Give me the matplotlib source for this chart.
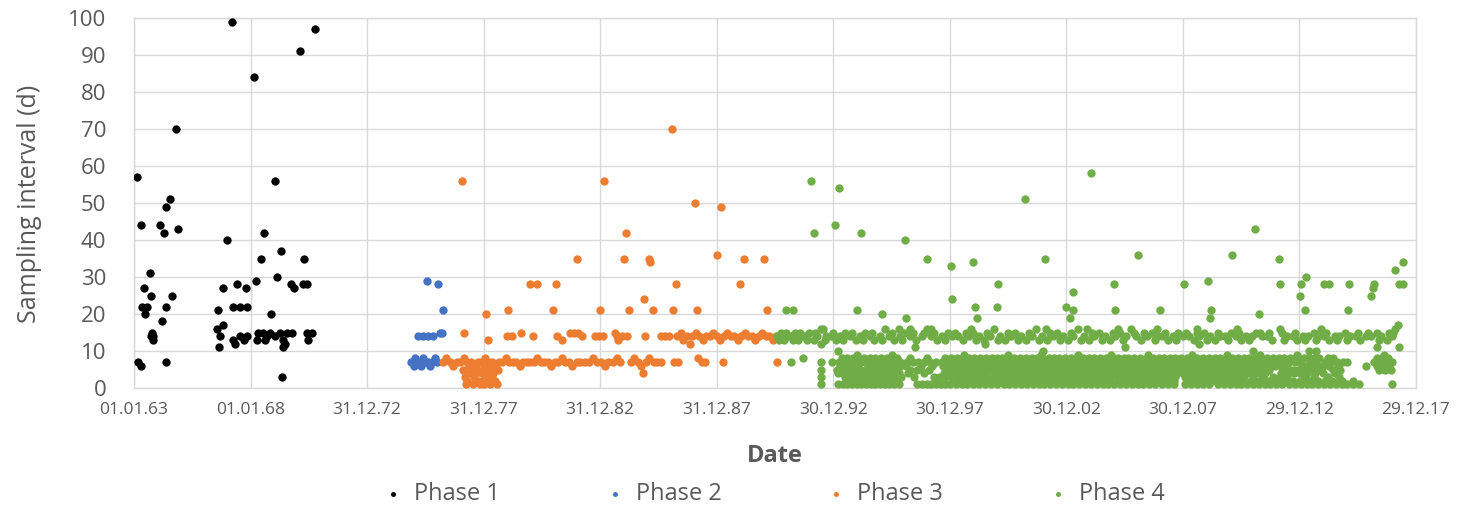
import datetime as dt
import matplotlib
matplotlib.use("Agg")
import matplotlib.pyplot as plt
import matplotlib.dates as mdates

# ---------------------------------------------------------------------------
# Sampling interval (days) versus sampling date, given as decimal years
# ---------------------------------------------------------------------------
phase1 = [
    (1963.13, 57), (1963.30, 44), (1964.37, 49), (1964.55, 51), (1964.80, 70),
    (1964.89, 43), (1964.12, 44), (1964.29, 42), (1963.69, 31), (1963.43, 27),
    (1963.73, 25), (1964.63, 25), (1963.34, 22), (1963.56, 22), (1963.47, 20),
    (1964.37, 22), (1964.20, 18), (1963.77, 15), (1963.82, 14), (1963.80, 13),
    (1963.75, 14), (1963.17, 7), (1963.30, 6), (1964.37, 7),
    (1967.21, 99), (1968.15, 84), (1970.12, 91), (1970.77, 97), (1969.05, 56),
    (1966.99, 40), (1968.58, 42), (1968.45, 35), (1969.31, 37), (1970.30, 35),
    (1968.24, 29), (1969.14, 30), (1966.82, 27), (1967.42, 28), (1967.81, 27),
    (1969.74, 28), (1969.87, 27), (1970.25, 28), (1970.42, 28), (1966.61, 21),
    (1967.25, 22), (1967.55, 22), (1967.85, 22), (1968.88, 20), (1966.56, 16),
    (1966.82, 17), (1966.69, 14), (1966.65, 11), (1967.25, 13), (1967.55, 14),
    (1967.85, 14), (1967.33, 12), (1967.70, 13), (1968.32, 15), (1968.54, 15),
    (1968.71, 14), (1968.84, 15), (1969.05, 14), (1968.28, 13), (1968.62, 13),
    (1969.27, 15), (1969.39, 13), (1969.57, 15), (1969.39, 11), (1969.78, 15),
    (1969.48, 12), (1970.42, 15), (1970.64, 15), (1970.47, 13), (1969.35, 3),
]

phase2 = [
    (1975.57, 29), (1976.05, 28), (1976.26, 21), (1975.19, 14), (1975.40, 14),
    (1975.62, 14), (1975.83, 14), (1976.13, 15), (1976.22, 15),
    (1974.90, 7), (1975.00, 6), (1975.05, 8), (1975.15, 7), (1975.25, 7),
    (1975.30, 6), (1975.40, 8), (1975.50, 7), (1975.60, 7), (1975.70, 6),
    (1975.80, 7), (1975.90, 8), (1976.00, 7),
]

phase3 = [
    # isolated long intervals
    (1977.08, 56), (1983.17, 56), (1986.09, 70), (1987.08, 50), (1988.19, 49),
    (1984.12, 42), (1982.01, 35), (1984.03, 35), (1985.10, 35), (1985.15, 34),
    (1988.02, 36), (1989.18, 35), (1990.04, 35), (1979.99, 28), (1980.30, 28),
    (1981.11, 28), (1986.26, 28), (1989.01, 28), (1984.89, 24), (1978.11, 20),
    (1979.05, 21), (1980.98, 21), (1983.00, 21), (1984.24, 21), (1985.27, 21),
    (1986.13, 21), (1987.16, 21), (1990.17, 21), (1977.16, 15), (1984.85, 4),
    # fortnightly
    (1978.19, 13), (1979.01, 14), (1979.22, 14), (1979.61, 15), (1980.12, 14),
    (1981.15, 14), (1981.37, 13), (1981.71, 15), (1981.88, 15), (1982.06, 15),
    (1982.23, 14), (1982.79, 14), (1982.96, 14), (1983.13, 14), (1983.64, 15),
    (1983.73, 14), (1983.77, 13), (1983.94, 14), (1984.16, 14), (1984.93, 14),
    (1985.62, 14), (1985.79, 14), (1985.96, 14),
    (1986.30, 14), (1986.45, 15), (1986.55, 13), (1986.70, 14), (1986.85, 12),
    (1986.95, 14), (1987.10, 15), (1987.25, 14), (1987.40, 13), (1987.55, 14),
    (1987.70, 14), (1987.85, 15), (1988.00, 14), (1988.15, 13), (1988.30, 14),
    (1988.45, 15), (1988.60, 14), (1988.75, 14), (1988.90, 13), (1989.05, 14),
    (1989.20, 15), (1989.35, 14), (1989.50, 14), (1989.65, 13), (1989.80, 14),
    (1989.95, 15), (1990.10, 14), (1990.25, 14), (1990.40, 13), (1990.55, 14),
    # weekly
    (1976.25, 7), (1976.40, 8), (1976.55, 7), (1976.70, 6), (1976.85, 7),
    (1977.00, 7), (1977.15, 8), (1977.30, 7), (1977.45, 7), (1977.60, 6),
    (1977.75, 7), (1977.90, 7), (1978.05, 8), (1978.20, 7), (1978.35, 7),
    (1978.50, 6), (1978.65, 7), (1978.80, 7), (1978.95, 8), (1979.10, 7),
    (1979.25, 7), (1979.40, 7), (1979.55, 6), (1979.70, 7), (1979.85, 7),
    (1980.00, 7), (1980.15, 7), (1980.30, 8), (1980.45, 7), (1980.60, 7),
    (1980.75, 7), (1980.90, 6), (1981.05, 7), (1981.20, 7), (1981.35, 8),
    (1981.50, 7), (1981.65, 7), (1981.80, 6), (1982.00, 7), (1982.15, 7),
    (1982.35, 7), (1982.50, 7), (1982.70, 8), (1982.85, 7), (1983.05, 7),
    (1983.20, 6), (1983.35, 7), (1983.55, 7), (1983.70, 8), (1983.85, 7),
    (1984.30, 7), (1984.45, 8), (1984.60, 7), (1984.75, 6), (1984.95, 7),
    (1985.10, 8), (1985.30, 7), (1985.45, 7), (1985.60, 7), (1986.15, 7),
    (1986.35, 7), (1987.20, 8), (1987.35, 7), (1987.50, 7), (1988.25, 7),
    (1990.60, 7),
    # short intervals 1977-1978
    (1977.10, 5), (1977.20, 3), (1977.25, 1), (1977.30, 2), (1977.40, 4),
    (1977.45, 6), (1977.55, 1), (1977.60, 3), (1977.70, 5), (1977.75, 2),
    (1977.85, 1), (1977.90, 4), (1978.00, 6), (1978.05, 3), (1978.10, 2),
    (1978.15, 5), (1978.25, 1), (1978.30, 4), (1978.35, 3), (1978.45, 6),
    (1978.50, 2), (1978.55, 1), (1978.60, 5), (1978.40, 4), (1977.50, 4),
    (1978.20, 6), (1977.35, 6), (1977.95, 2), (1977.65, 6), (1978.00, 1),
]

phase4_sparse = [
    (1990.95, 21), (1991.28, 21), (1991.20, 7), (1991.71, 8), (1992.06, 56),
    (1992.18, 42), (1993.09, 44), (1993.26, 54), (1994.20, 42), (1996.09, 40),
    (1997.03, 35), (1998.06, 33), (1999.01, 34), (2000.08, 28), (2001.20, 51),
    (2002.06, 35), (2004.07, 58), (2005.02, 28), (2003.30, 26), (1998.11, 24),
    (1999.09, 22), (1999.18, 19), (2000.00, 22), (1994.03, 21), (1995.10, 20),
    (1996.13, 19), (2003.00, 22), (2003.26, 21), (2003.13, 19), (2005.10, 21),
    (2006.05, 36), (2007.03, 21), (2008.06, 28), (2009.05, 29), (2009.18, 21),
    (2009.14, 19), (2010.08, 36), (2011.07, 43), (2011.24, 20), (2012.10, 35),
    (2012.14, 28), (2013.00, 25), (2013.04, 28), (2013.26, 30), (2013.21, 21),
    (2014.03, 28), (2014.24, 28), (2015.06, 21), (2015.10, 28), (2016.18, 28),
    (2016.13, 27), (2016.05, 25), (2017.25, 28), (2017.42, 28), (2017.42, 34),
    (2017.08, 32), (2017.21, 17), (2017.08, 16), (2017.25, 11), (2016.95, 1),
    (1992.45, 16), (1995.80, 16), (1996.30, 16), (1997.20, 16), (1998.90, 16),
    (2002.10, 16), (2003.90, 16), (2005.20, 16), (2006.90, 16), (2008.60, 16),
    (2010.30, 16), (2012.18, 16), (2013.90, 16),
    (1992.45, 12), (1993.20, 10), (1996.50, 11), (1999.50, 12), (2002.00, 10),
    (2005.50, 11), (2008.70, 12), (2011.00, 10), (2013.40, 10), (2013.70, 10),
    (2016.30, 11),
]

phase4_fortnightly = [
    (1990.60, 14), (1990.75, 15), (1990.90, 13), (1991.05, 14), (1991.20, 14),
    (1991.35, 15), (1991.50, 13), (1991.65, 14), (1991.80, 14), (1991.95, 15),
    (1992.15, 13), (1992.30, 14), (1992.55, 16), (1992.70, 14), (1992.90, 14),
    (1993.10, 13), (1993.30, 14), (1993.50, 15), (1993.70, 14), (1993.95, 13),
    (1994.15, 14), (1994.35, 15), (1994.55, 14), (1994.75, 13), (1995.00, 14),
    (1995.20, 16), (1995.40, 14), (1995.60, 13), (1995.85, 14), (1996.05, 15),
    (1996.30, 14), (1996.55, 13), (1996.80, 14), (1997.00, 16), (1997.20, 14),
    (1997.45, 13), (1997.65, 14), (1997.90, 15), (1998.10, 14), (1998.35, 14),
    (1998.55, 13), (1998.80, 14), (1999.00, 15), (1999.25, 14), (1999.45, 13),
    (1999.70, 14), (1999.90, 16), (2000.15, 14), (2000.35, 13), (2000.60, 14),
    (2000.80, 15), (2001.05, 14), (2001.25, 13), (2001.50, 14), (2001.70, 16),
    (2001.95, 14), (2002.15, 13), (2002.40, 14), (2002.60, 15), (2002.85, 14),
    (2003.05, 13), (2003.30, 14), (2003.50, 16), (2003.75, 14), (2003.95, 13),
    (2004.20, 14), (2004.40, 15), (2004.65, 14), (2004.85, 13), (2005.10, 14),
    (2005.30, 15), (2005.55, 14), (2005.75, 16), (2006.00, 14), (2006.20, 13),
    (2006.45, 14), (2006.65, 15), (2006.90, 14), (2007.10, 14), (2007.35, 13),
    (2007.55, 14), (2007.80, 15), (2008.00, 14), (2008.25, 14), (2008.45, 13),
    (2008.70, 14), (2008.90, 15), (2009.15, 14), (2009.35, 13), (2009.60, 14),
    (2009.80, 14), (2010.05, 15), (2010.25, 14), (2010.50, 13), (2010.70, 14),
    (2010.95, 14), (2011.15, 15), (2011.40, 14), (2011.60, 14), (2011.80, 13),
    (2012.25, 15), (2012.45, 14), (2012.70, 14), (2012.90, 13), (2013.15, 14),
    (2013.35, 14), (2013.60, 15), (2013.80, 14), (2014.05, 14), (2014.25, 13),
    (2014.50, 14), (2014.70, 14), (2014.95, 15), (2015.15, 14), (2015.40, 14),
    (2015.60, 13), (2015.85, 14), (2016.05, 14), (2016.30, 15), (2016.50, 14),
    (2016.75, 13), (2016.95, 14),
    (1990.68, 13), (1990.98, 15), (1991.28, 13), (1991.58, 15), (1991.88, 13),
    (1992.22, 15), (1992.62, 13), (1993.00, 15), (1993.40, 13), (1993.82, 15),
    (1994.25, 13), (1994.65, 15), (1995.10, 13), (1995.50, 15), (1995.95, 13),
    (1996.42, 15), (1996.90, 15), (1997.32, 15), (1997.78, 13), (1998.22, 15),
    (1998.68, 15), (1999.12, 13), (1999.58, 15), (2000.05, 13), (2000.48, 15),
    (2000.92, 13), (2001.38, 15), (2001.82, 13), (2002.28, 15), (2002.72, 13),
    (2003.18, 15), (2003.62, 13), (2004.08, 15), (2004.52, 13), (2004.98, 15),
    (2005.42, 13), (2005.88, 15), (2006.32, 15), (2006.78, 13), (2007.22, 15),
    (2007.68, 13), (2008.12, 15), (2008.58, 15), (2009.02, 13), (2009.48, 15),
    (2009.92, 13), (2010.38, 15), (2010.82, 13), (2011.28, 15), (2011.70, 15),
    (2012.35, 13), (2012.80, 15), (2013.25, 13), (2013.70, 13), (2014.15, 15),
    (2014.60, 13), (2015.05, 13), (2015.50, 15), (2015.95, 15), (2016.40, 13),
    (2016.85, 15), (2017.00, 15),
]

# years of the short (1-9 day) intervals in phase 4, one list per interval
phase4_short = {
    9: [1994.00, 1995.50, 1998.60, 2000.50, 2001.90, 2003.50, 2004.90, 2006.50,
        2008.40, 2009.90, 2011.30, 2012.90, 2016.60],
    8: [1993.35, 1993.85, 1994.30, 1994.80, 1995.30, 1995.75, 1997.80, 1998.30,
        1998.80, 1999.30, 1999.80, 2000.25, 2000.75, 2001.25, 2001.75, 2002.25,
        2002.70, 2003.20, 2003.70, 2004.20, 2004.70, 2005.20, 2005.65, 2006.15,
        2006.70, 2007.20, 2007.65, 2008.15, 2008.60, 2009.10, 2009.60, 2010.10,
        2010.60, 2011.10, 2011.60, 2012.10, 2012.60, 2013.20, 2013.60, 2014.20,
        2016.30, 2016.80,
        1993.60, 1994.05, 1994.55, 1995.05, 1995.55, 1998.05, 1998.55, 1999.05,
        1999.55, 2000.00, 2000.50, 2001.00, 2001.50, 2002.00, 2002.45, 2002.95,
        2003.45, 2003.95, 2004.45, 2004.95, 2005.45, 2005.90, 2006.45, 2006.95,
        2007.45, 2007.90, 2008.40, 2008.85, 2009.35, 2009.85, 2010.35, 2010.85,
        2011.35, 2011.85, 2012.35, 2012.85, 2013.40, 2013.85, 2014.45, 2016.55,
        1996.30, 1997.00],
    7: [1992.45, 1992.95, 1993.25, 1993.45, 1993.70, 1993.95, 1994.20, 1994.40,
        1994.65, 1994.90, 1995.15, 1995.40, 1995.65, 1995.85, 1996.40, 1996.90,
        1997.40, 1997.65, 1997.90, 1998.15, 1998.40, 1998.65, 1998.90, 1999.15,
        1999.40, 1999.60, 1999.85, 2000.10, 2000.35, 2000.60, 2000.85, 2001.10,
        2001.35, 2001.60, 2001.85, 2002.10, 2002.35, 2002.55, 2002.80, 2003.05,
        2003.30, 2003.55, 2003.80, 2004.05, 2004.30, 2004.55, 2004.80, 2005.05,
        2005.30, 2005.55, 2005.80, 2006.05, 2006.30, 2006.55, 2006.80, 2007.05,
        2007.30, 2007.55, 2007.80, 2008.05, 2008.30, 2008.55, 2008.80, 2009.05,
        2009.30, 2009.55, 2009.80, 2010.05, 2010.30, 2010.55, 2010.80, 2011.05,
        2011.30, 2011.55, 2011.80, 2012.05, 2012.30, 2012.55, 2012.80, 2013.05,
        2013.45, 2013.70, 2014.10, 2014.35, 2014.60, 2014.85, 2015.05, 2016.20,
        2016.45, 2016.70, 2016.95, 1996.15, 1996.65, 1997.15],
    6: [1993.30, 1993.80, 1994.50, 1995.10, 1995.60, 1996.10, 1997.70, 1998.20,
        1998.70, 1999.20, 1999.75, 2000.20, 2000.70, 2001.20, 2001.70, 2002.20,
        2002.60, 2003.10, 2003.60, 2004.10, 2004.60, 2005.10, 2005.60, 2006.10,
        2006.60, 2007.10, 2007.60, 2008.10, 2008.70, 2009.20, 2009.70, 2010.20,
        2010.70, 2011.20, 2011.70, 2012.20, 2013.10, 2013.55, 2014.00, 2015.83,
        2016.30, 2016.85,
        1993.55, 1994.05, 1994.75, 1995.35, 1995.85, 1997.95, 1998.45, 1998.95,
        1999.45, 2000.00, 2000.45, 2000.95, 2001.45, 2001.95, 2002.40, 2002.85,
        2003.35, 2003.85, 2004.35, 2004.85, 2005.35, 2005.85, 2006.35, 2006.85,
        2007.35, 2007.85, 2008.35, 2008.95, 2009.45, 2009.95, 2010.45, 2010.95,
        2011.45, 2011.95, 2012.45, 2013.30, 2013.80, 2014.25, 2014.65, 2016.55,
        1996.75, 1997.25],
    5: [1992.45, 1993.40, 1993.90, 1994.35, 1994.85, 1995.35, 1996.30, 1997.85,
        1998.45, 1998.95, 1999.50, 2000.00, 2000.45, 2000.95, 2001.50, 2001.95,
        2002.45, 2002.95, 2003.40, 2003.95, 2004.40, 2004.95, 2005.45, 2005.95,
        2006.40, 2006.95, 2007.45, 2007.95, 2008.45, 2008.95, 2009.45, 2009.95,
        2010.45, 2010.95, 2011.45, 2012.40, 2012.95, 2013.40, 2014.75, 2016.40,
        2016.90,
        1993.15, 1993.65, 1994.10, 1994.60, 1995.10, 1995.60, 1998.20, 1998.70,
        1999.20, 1999.75, 2000.20, 2000.70, 2001.20, 2001.70, 2002.20, 2002.70,
        2003.15, 2003.65, 2004.15, 2004.65, 2005.20, 2005.70, 2006.15, 2006.65,
        2007.20, 2007.70, 2008.20, 2008.70, 2009.20, 2009.70, 2010.20, 2010.70,
        2011.20, 2011.70, 2012.70, 2013.15, 2013.90, 2014.45, 2016.65,
        1996.60, 1997.10],
    4: [1993.20, 1993.65, 1994.10, 1994.60, 1995.05, 1995.55, 1997.75, 1998.25,
        1998.75, 1999.25, 1999.95, 2000.55, 2001.00, 2001.45, 2002.00, 2002.50,
        2003.00, 2003.45, 2004.00, 2004.50, 2005.00, 2005.50, 2006.00, 2006.50,
        2007.00, 2007.50, 2008.00, 2008.50, 2009.00, 2009.50, 2010.00, 2010.50,
        2011.00, 2011.50, 2012.50, 2013.00, 2013.65,
        1993.40, 1993.90, 1994.35, 1994.85, 1995.30, 1995.80, 1998.00, 1998.50,
        1999.00, 1999.55, 2000.25, 2000.80, 2001.25, 2001.70, 2002.25, 2002.75,
        2003.25, 2003.70, 2004.25, 2004.75, 2005.25, 2005.75, 2006.25, 2006.75,
        2007.25, 2007.75, 2008.25, 2008.75, 2009.25, 2009.75, 2010.25, 2010.75,
        2011.25, 2012.20, 2012.75, 2013.30, 2014.00, 2014.50, 1996.20, 1996.90],
    3: [1992.45, 1993.50, 1994.05, 1994.70, 1995.25, 1995.90, 1997.55, 1998.05,
        1998.55, 1999.05, 1999.55, 2000.15, 2000.65, 2001.15, 2001.65, 2002.15,
        2002.65, 2003.15, 2003.65, 2004.15, 2004.65, 2005.15, 2005.65, 2006.15,
        2006.65, 2007.15, 2007.65, 2008.35, 2008.85, 2009.35, 2009.85, 2010.35,
        2011.85, 2012.15, 2013.25,
        1993.75, 1994.35, 1994.95, 1995.55, 1997.80, 1998.30, 1998.80, 1999.30,
        1999.85, 2000.40, 2000.90, 2001.40, 2001.90, 2002.40, 2002.90, 2003.40,
        2003.90, 2004.40, 2004.90, 2005.40, 2005.90, 2006.40, 2006.90, 2007.40,
        2008.10, 2008.60, 2009.10, 2009.60, 2010.10, 2010.60, 2011.00, 2011.45,
        2012.45, 2013.60, 2014.20, 2014.70, 1996.45, 1997.30],
    2: [1993.60, 1994.25, 1995.00, 1995.70, 1997.45, 1998.30, 1999.00, 1999.65,
        2000.40, 2001.05, 2001.80, 2002.50, 2003.20, 2003.85, 2004.45, 2005.25,
        2005.90, 2006.55, 2007.25, 2008.15, 2008.80, 2009.40, 2010.15, 2010.90,
        2011.65, 2012.35, 2013.00, 2013.80, 2014.40, 2015.30,
        1993.90, 1994.60, 1995.35, 1998.65, 1999.35, 2000.05, 2000.75, 2001.45,
        2002.15, 2002.85, 2003.55, 2004.15, 2004.80, 2005.60, 2006.25, 2006.90,
        2007.60, 2008.45, 2009.10, 2009.75, 2010.50, 2011.25, 2012.00, 2012.70,
        2013.40, 2014.10, 2014.80],
    1: [1992.45, 1993.20, 1993.40, 1993.60, 1993.80, 1994.00, 1994.20, 1994.40,
        1994.60, 1994.80, 1995.00, 1995.20, 1995.40, 1995.60, 1995.80, 1996.60,
        1996.80, 1997.00, 1997.20, 1997.40, 1997.60, 1997.80, 1998.00, 1998.25,
        1998.50, 1998.75, 1999.00, 1999.25, 1999.50, 1999.75, 2000.00, 2000.30,
        2000.55, 2000.80, 2001.05, 2001.30, 2001.55, 2001.80, 2002.05, 2002.30,
        2002.55, 2002.80, 2003.05, 2003.30, 2003.55, 2003.80, 2004.05, 2004.30,
        2004.55, 2004.80, 2005.05, 2005.30, 2005.55, 2005.80, 2006.05, 2006.30,
        2006.55, 2006.80, 2007.10, 2007.35, 2007.60, 2008.10, 2008.35, 2008.60,
        2008.85, 2009.10, 2009.50, 2009.75, 2010.00, 2010.25, 2010.50, 2010.75,
        2011.00, 2011.25, 2011.50, 2011.75, 2012.00, 2012.25, 2012.55, 2012.80,
        2013.05, 2013.30, 2013.55, 2013.80, 2014.05, 2014.30, 2014.55, 2014.80,
        2015.05, 2015.30, 2015.55],
}

phase_labels = ["Phase 1", "Phase 2", "Phase 3", "Phase 4"]
phase_colors = ["#000000", "#4472C4", "#ED7D31", "#70AD47"]

start_date = dt.datetime(1963, 1, 1)
tick_step_days = 1826
n_ticks = 12


def to_date(year):
    return start_date + dt.timedelta(days=(year - 1963.0) * 365.25)


def split(points):
    return [to_date(p[0]) for p in points], [p[1] for p in points]


phase4 = list(phase4_sparse) + list(phase4_fortnightly)
for interval, years in phase4_short.items():
    phase4 += [(y, interval) for y in years]

series = [phase1, phase2, phase3, phase4]

# ---------------------------------------------------------------------------
text_color = "#595959"
grid_color = "#D9D9D9"
plt.rcParams["font.family"] = ["Open Sans", "DejaVu Sans"]

fig = plt.figure(figsize=(14.72, 5.16), dpi=100)
ax = fig.add_axes([134 / 1472, 1 - 388 / 516, (1416 - 134) / 1472, (388 - 18) / 516])

for pts, label, color in zip(series, phase_labels, phase_colors):
    xs, ys = split(pts)
    ax.scatter(xs, ys, s=36, color=color, linewidths=0, label=label, zorder=3)

ticks = [start_date + dt.timedelta(days=tick_step_days * k) for k in range(n_ticks)]
ax.set_xlim(ticks[0], ticks[-1])
ax.set_xticks(ticks)
ax.xaxis.set_major_formatter(mdates.DateFormatter("%d.%m.%y"))
ax.set_ylim(0, 100)
ax.set_yticks(range(0, 101, 10))

ax.grid(True, color=grid_color, linewidth=1.0, zorder=0)
ax.set_axisbelow(True)
for side in ax.spines.values():
    side.set_color(grid_color)
    side.set_linewidth(1.0)

ax.tick_params(axis="both", length=0, colors=text_color)
ax.tick_params(axis="y", labelsize=16, pad=20)
ax.tick_params(axis="x", labelsize=12.5, pad=10)

fig.text(30 / 1472, 1 - 204 / 516, "Sampling interval (d)", rotation=90,
         ha="center", va="center", fontsize=18, color=text_color)
fig.text(775 / 1472, 1 - 456 / 516, "Date", ha="center", va="center",
         fontsize=17, fontweight="bold", color=text_color)

leg = fig.legend(loc="center", bbox_to_anchor=(773 / 1472, 1 - 494 / 516),
                 ncol=4, frameon=False, fontsize=17, markerscale=0.6,
                 handlelength=1.0, handletextpad=0.4, columnspacing=4.35,
                 labelcolor=text_color)

fig.savefig("out.png", dpi=100, facecolor="white")
